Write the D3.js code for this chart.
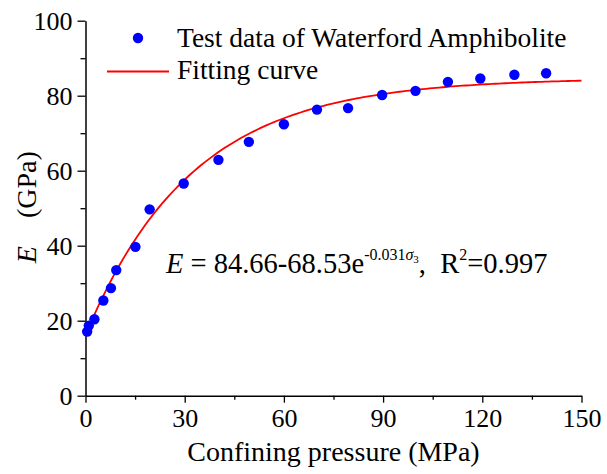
<!DOCTYPE html>
<html>
<head>
<meta charset="utf-8">
<script src="https://cdn.jsdelivr.net/npm/d3@7.9.0/dist/d3.min.js"></script>
<style>
  body { margin: 0; background: #fff; }
  svg text { font-family: "Times New Roman", "Liberation Serif", Tinos, "DejaVu Serif", serif; }
</style>
</head>
<body>
<script>
// test data, confining pressure (MPa) vs E (GPa)
const pressure = [0.5, 1, 2.7, 5.4, 7.7, 9.3, 15.1, 19.4, 29.7, 40.2, 49.4, 60, 70, 79.4, 89.7, 99.8, 109.6, 119.4, 129.7, 139.3];
const modulus  = [17.1, 18.7, 20.4, 25.4, 28.7, 33.5, 39.7, 49.7, 56.6, 62.9, 67.7, 72.4, 76.3, 76.7, 80.2, 81.3, 83.7, 84.6, 85.6, 86.0];
// fit E = a - b*exp(c*s3)
const fitParams = [84.66, 68.53, -0.031];
const xTicks = [0, 30, 60, 90, 120, 150];
const yTicks = [0, 20, 40, 60, 80, 100];

const width = 607, height = 474;
const marginLeft = 85.5, marginRight = 25.5, marginTop = 20.7, marginBottom = 78.3;

const svg = d3.select("body").append("svg")
    .attr("width", width)
    .attr("height", height)
    .attr("viewBox", [0, 0, width, height]);

const x = d3.scaleLinear().domain([0, 150]).range([marginLeft, width - marginRight]);
const y = d3.scaleLinear().domain([0, 100]).range([height - marginBottom, marginTop]);

// minor ticks
svg.append("g")
    .attr("transform", `translate(0,${y(0)})`)
    .call(d3.axisBottom(x).tickValues(d3.range(15, 150, 30)).tickSize(4).tickFormat(""))
    .call(g => g.select(".domain").remove())
    .call(g => g.selectAll(".tick line").attr("stroke-width", 1.3));
svg.append("g")
    .attr("transform", `translate(${x(0)},0)`)
    .call(d3.axisLeft(y).tickValues(d3.range(10, 100, 20)).tickSize(5).tickFormat(""))
    .call(g => g.select(".domain").remove())
    .call(g => g.selectAll(".tick line").attr("stroke-width", 1.3));

// major axes
svg.append("g")
    .attr("transform", `translate(0,${y(0)})`)
    .call(d3.axisBottom(x).tickValues(xTicks).tickSize(7).tickSizeOuter(0).tickPadding(6))
    .call(g => g.select(".domain").attr("stroke-width", 1.5))
    .call(g => g.selectAll(".tick line").attr("stroke-width", 1.3))
    .call(g => g.selectAll(".tick text").attr("font-size", 26));
svg.append("g")
    .attr("transform", `translate(${x(0)},0)`)
    .call(d3.axisLeft(y).tickValues(yTicks).tickSize(8).tickSizeOuter(0).tickPadding(5))
    .call(g => g.select(".domain").attr("stroke-width", 1.5))
    .call(g => g.selectAll(".tick line").attr("stroke-width", 1.3))
    .call(g => g.selectAll(".tick text").attr("font-size", 26));

// axis titles
svg.append("text")
    .attr("x", (x(0) + x(150)) / 2)
    .attr("y", 461)
    .attr("text-anchor", "middle")
    .attr("font-size", 28)
    .text("Confining pressure (MPa)");

const yTitle = svg.append("text")
    .attr("transform", `translate(36,${y(50) - 1}) rotate(-90)`)
    .attr("text-anchor", "middle")
    .attr("font-size", 28);
yTitle.append("tspan").attr("font-style", "italic").text("E");
yTitle.append("tspan").text("\u2003(GPa)");

// fitting curve
const [a, b, c] = fitParams;
const fitX = d3.range(0, 150.01, 1);
const line = d3.line()
    .x(d => x(d))
    .y(d => y(a - b * Math.exp(c * d)));
svg.append("path")
    .attr("fill", "none")
    .attr("stroke", "#ff0000")
    .attr("stroke-width", 1.8)
    .attr("d", line(fitX));

// points
svg.selectAll("circle.pt")
  .data(pressure)
  .join("circle")
    .attr("class", "pt")
    .attr("cx", d => x(d))
    .attr("cy", (d, i) => y(modulus[i]))
    .attr("r", 5.2)
    .attr("fill", "#0000ff");

// legend
svg.append("circle").attr("cx", 138).attr("cy", 38).attr("r", 5.2).attr("fill", "#0000ff");
svg.append("text").attr("x", 177).attr("y", 47).attr("font-size", 27.5)
    .text("Test data of Waterford Amphibolite");
svg.append("line").attr("x1", 107).attr("x2", 169).attr("y1", 71.5).attr("y2", 71.5)
    .attr("stroke", "#ff0000").attr("stroke-width", 1.8);
svg.append("text").attr("x", 177).attr("y", 79).attr("font-size", 27.5)
    .text("Fitting curve");

// equation
const eq = svg.append("text").attr("x", 166).attr("y", 273).attr("font-size", 28.5);
eq.append("tspan").attr("font-style", "italic").text("E");
eq.append("tspan").text(" = 84.66-68.53e");
eq.append("tspan").attr("font-size", 16).attr("dy", -13).text("-0.031");
eq.append("tspan").attr("font-size", 16).attr("font-style", "italic").text("\u03c3");
eq.append("tspan").attr("font-size", 11).attr("dy", 3).text("3");
eq.append("tspan").attr("dy", 10).text(",\u2002R");
eq.append("tspan").attr("font-size", 16).attr("dy", -13).text("2");
eq.append("tspan").attr("dy", 13).text("=0.997");
</script>
</body>
</html>
